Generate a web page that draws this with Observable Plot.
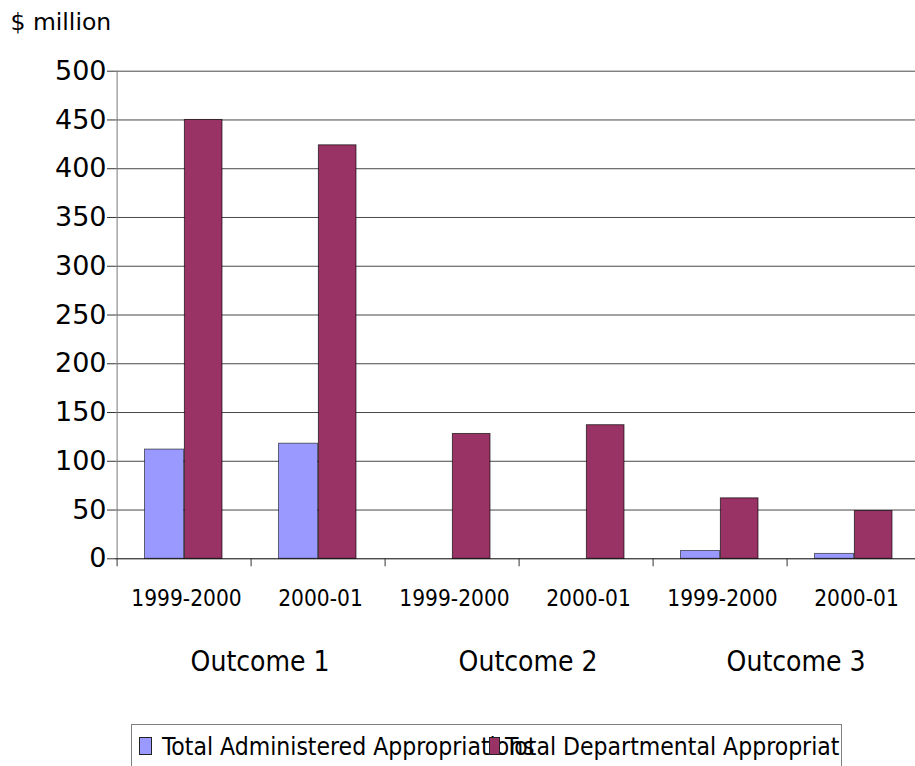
<!DOCTYPE html>
<html>
<head>
<meta charset="utf-8">
<script src="https://cdn.jsdelivr.net/npm/d3@7"></script>
<script src="https://cdn.jsdelivr.net/npm/@observablehq/plot@0.6"></script>
<style>
  html, body { margin: 0; padding: 0; background: #fff; }
  #wrap { position: relative; width: 915px; height: 766px; overflow: hidden; background: #fff; }
  #chart { position: absolute; left: 0; top: 0; }
  #legend { position: absolute; left: 131px; top: 724px; }
</style>
</head>
<body>
<div id="wrap">
  <div id="chart"></div>
  <div id="legend"></div>
</div>
<script>
// ---- data ----
const outcomeNames = ["Outcome 1", "Outcome 2", "Outcome 3"];
const outcomes = ["Outcome 1", "Outcome 1", "Outcome 2", "Outcome 2", "Outcome 3", "Outcome 3"];
const years = ["1999-2000", "2000-01", "1999-2000", "2000-01", "1999-2000", "2000-01"];
const administered = [112, 118, 0, 0, 8, 5];
const departmental = [450, 424, 128, 137, 62, 49];
const yTicks = [0, 50, 100, 150, 200, 250, 300, 350, 400, 450, 500];
// legend labels as they appear in the (cropped) reference
const seriesNames = ["Total Administered Appropriations", "Total Departmental Appropriat"];
const seriesColors = ["#9999FF", "#993366"];

const keys = outcomes.map((o, i) => o + "|" + years[i]);
const table = keys.map((k, i) => ({
  key: k, outcome: outcomes[i], year: years[i],
  administered: administered[i], departmental: departmental[i]
}));

const slotHalf = 67.4;

const chart = Plot.plot({
  width: 915,
  height: 766,
  marginLeft: 115,
  marginRight: 0,
  marginTop: 70.7,
  marginBottom: 207.7,
  x: { type: "band", domain: keys, range: [115, 923.8], padding: 0 },
  y: { domain: [0, 500] },
  style: { background: "transparent", overflow: "visible", color: "#000" },
  marks: [
    // gridlines
    Plot.ruleY(yTicks.slice(1), { stroke: "#000", strokeOpacity: 0.72, strokeWidth: 1 }),
    // y axis line
    Plot.ruleX([keys[0]], { x: d => d, dx: -slotHalf, y1: yTicks[yTicks.length - 1], y2: yTicks[0], stroke: "#7a7a7a", strokeWidth: 1 }),
    // bars
    Plot.barY(table, {
      filter: d => d.administered > 0,
      x: "key", y: "administered", fill: seriesColors[0],
      insetLeft: 27.5, insetRight: slotHalf,
      stroke: "#000", strokeOpacity: 0.55, strokeWidth: 1
    }),
    Plot.barY(table, {
      filter: d => d.departmental > 0,
      x: "key", y: "departmental", fill: seriesColors[1],
      insetLeft: slotHalf, insetRight: 29,
      stroke: "#000", strokeOpacity: 0.65, strokeWidth: 1
    }),
    // baseline
    Plot.ruleY([0], { stroke: "#000", strokeWidth: 1 }),
    // y axis ticks & labels
    Plot.axisY(yTicks, {
      tickSize: 8, tickPadding: 1, fontSize: 27, fontFamily: "DejaVu Sans",
      label: null, stroke: "#333"
    }),
    // category boundary ticks
    Plot.axisX(keys, { tickSize: 8, text: null, dx: -slotHalf, stroke: "#333", label: null }),
    // year labels
    Plot.text(table, {
      x: "key", text: "year", frameAnchor: "bottom", lineAnchor: "bottom",
      dy: 47, dx: 2, fontSize: 22.5, fontFamily: "DejaVu Sans Condensed", fill: "#000"
    }),
    // outcome labels (centred on each pair)
    Plot.text(outcomeNames, {
      x: (d, i) => keys[2 * i + 1], text: d => d, frameAnchor: "bottom", lineAnchor: "bottom",
      dy: 112, dx: -slotHalf + 9, fontSize: 28, fontFamily: "DejaVu Sans Condensed", fill: "#000"
    }),
    // unit label
    Plot.text(["$ million"], {
      frameAnchor: "top-left", textAnchor: "start", lineAnchor: "bottom",
      dx: -105, dy: -40.7, fontSize: 23.5, fontFamily: "DejaVu Sans", fill: "#000"
    })
  ]
});
document.getElementById("chart").appendChild(chart);

// ---- legend ----
const lw = 711, lh = 60;
const lsvg = d3.select("#legend").append("svg")
  .attr("width", lw).attr("height", lh)
  .style("display", "block");
lsvg.append("rect").attr("x", 0.5).attr("y", 0.5).attr("width", lw - 1).attr("height", lh + 10)
  .attr("fill", "#fff").attr("stroke", "#808080").attr("stroke-width", 1);
const items = [
  { sx: 8.5, sw: 12, tx: 31 },
  { sx: 358.5, sw: 10, tx: 374 }
];
// first label
lsvg.append("text").attr("x", items[0].tx).attr("y", 31)
  .attr("font-family", "DejaVu Sans Condensed").attr("font-size", 24.5)
  .attr("fill", "#000").text(seriesNames[0]);
// swatches
items.forEach((it, i) => {
  lsvg.append("rect").attr("x", it.sx).attr("y", 13.5).attr("width", it.sw).attr("height", 17)
    .attr("fill", seriesColors[i]).attr("stroke", "#222").attr("stroke-width", 1);
});
// second label on top, as in the reference
lsvg.append("text").attr("x", items[1].tx).attr("y", 31)
  .attr("font-family", "DejaVu Sans Condensed").attr("font-size", 24.5)
  .attr("fill", "#000").text(seriesNames[1]);
</script>
</body>
</html>
